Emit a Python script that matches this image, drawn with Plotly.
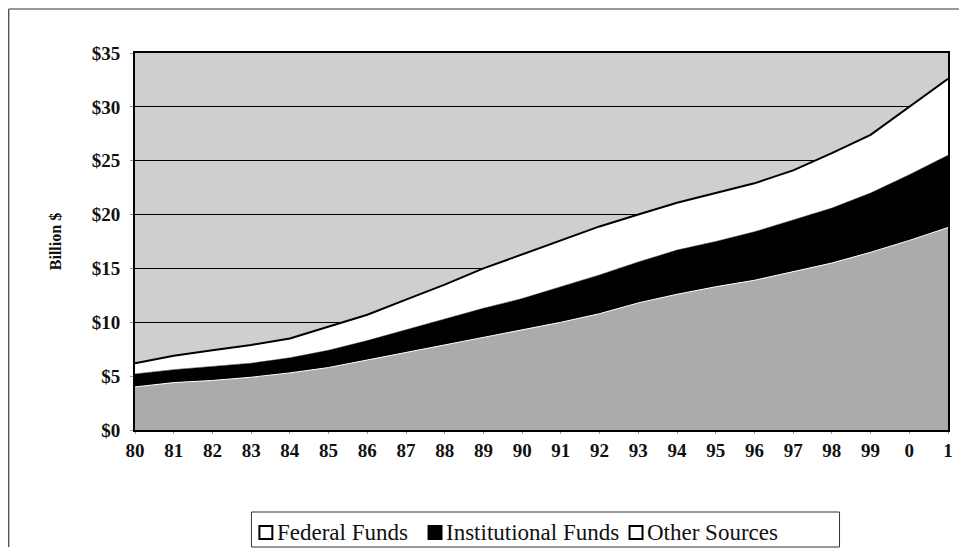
import plotly.graph_objects as go

# fiscal years 1980-2001 as printed on the axis
years = ['80', '81', '82', '83', '84', '85', '86', '87', '88', '89', '90',
         '91', '92', '93', '94', '95', '96', '97', '98', '99', '0', '1']

# billions of dollars
federal = [4.0, 4.4, 4.6, 4.9, 5.3, 5.8, 6.5, 7.2, 7.9, 8.6, 9.3,
           10.0, 10.8, 11.8, 12.6, 13.3, 13.9, 14.7, 15.5, 16.5, 17.6, 18.8]
institutional = [1.2, 1.2, 1.3, 1.3, 1.4, 1.6, 1.8, 2.1, 2.4, 2.7, 2.9,
                 3.3, 3.6, 3.8, 4.1, 4.2, 4.5, 4.8, 5.1, 5.5, 6.1, 6.7]
other = [1.0, 1.3, 1.5, 1.7, 1.8, 2.2, 2.4, 2.8, 3.2, 3.7, 4.1,
         4.3, 4.5, 4.4, 4.4, 4.5, 4.5, 4.6, 5.1, 5.4, 6.3, 7.1]

series_names = ['Federal Funds', 'Institutional Funds', 'Other Sources']
swatch_colors = ['white', 'black', 'white']

x = list(range(len(years)))
serif = 'Liberation Serif'

fig = go.Figure()

fig.add_trace(go.Scatter(x=x, y=federal, stackgroup='funds', mode='lines',
                         fillcolor='#ababab', line=dict(color='white', width=1),
                         name=series_names[0]))
fig.add_trace(go.Scatter(x=x, y=institutional, stackgroup='funds', mode='lines',
                         fillcolor='black', line=dict(color='black', width=0.5),
                         name=series_names[1]))
fig.add_trace(go.Scatter(x=x, y=other, stackgroup='funds', mode='lines',
                         fillcolor='white', line=dict(color='black', width=2),
                         name=series_names[2]))

fig.update_xaxes(
    range=[0, len(years) - 1],
    tickvals=x, ticktext=years,
    showgrid=False, zeroline=False,
    showline=True, linecolor='black', linewidth=2, mirror=True,
    ticks='outside', ticklen=2, tickcolor='#999',
    tickfont=dict(family=serif, size=19, color='#111', weight='bold'),
)
fig.update_yaxes(
    range=[0, 35], dtick=5, tickprefix='$',
    showgrid=True, gridcolor='black', gridwidth=1, zeroline=False,
    showline=True, linecolor='black', linewidth=2, mirror=True,
    ticks='outside', ticklen=3, tickcolor='#999',
    ticklabelstandoff=6,
    tickfont=dict(family=serif, size=19, color='#111', weight='bold'),
    title=dict(text='Billion $', standoff=26,
               font=dict(family=serif, size=16, color='#111', weight='bold')),
)

# figure geometry (page body adds an 8px margin around the figure)
W, H = 957, 540
L, R, T, B = 127, 13, 45, 118
plot_w, plot_h = W - L - R, H - T - B


def px(xp):
    # window pixel -> paper x
    return (xp - 8 - L) / plot_w


def py(yp):
    # window pixel -> paper y
    return (H - B - (yp - 8)) / plot_h


# hand-built legend box below the plot, like the original
shapes = [
    dict(type='rect', xref='paper', yref='paper',
         x0=px(252), x1=px(843), y0=py(547), y1=py(512),
         line=dict(color='#333', width=1), fillcolor='white'),
    dict(type='line', xref='paper', yref='paper',
         x0=px(8), x1=px(8), y0=py(547), y1=py(9),
         line=dict(color='#555', width=1.5)),
    dict(type='line', xref='paper', yref='paper',
         x0=px(8), x1=px(963), y0=py(9), y1=py(9),
         line=dict(color='#777', width=1.5)),
]
annotations = []
item_left = [260, 430, 632]
for name, col, xl in zip(series_names, swatch_colors, item_left):
    shapes.append(dict(type='rect', xref='paper', yref='paper',
                       x0=px(xl), x1=px(xl + 13), y0=py(539), y1=py(526),
                       line=dict(color='black', width=2), fillcolor=col))
    annotations.append(dict(xref='paper', yref='paper', x=px(xl + 16), y=py(532),
                            xanchor='left', yanchor='middle', showarrow=False,
                            text=name, font=dict(family=serif, size=23, color='#111')))

fig.update_layout(
    width=W, height=H,
    margin=dict(l=L, r=R, t=T, b=B),
    paper_bgcolor='white',
    plot_bgcolor='#cfcfcf',
    showlegend=False,
    shapes=shapes,
    annotations=annotations,
)

fig.write_html('out.html')
